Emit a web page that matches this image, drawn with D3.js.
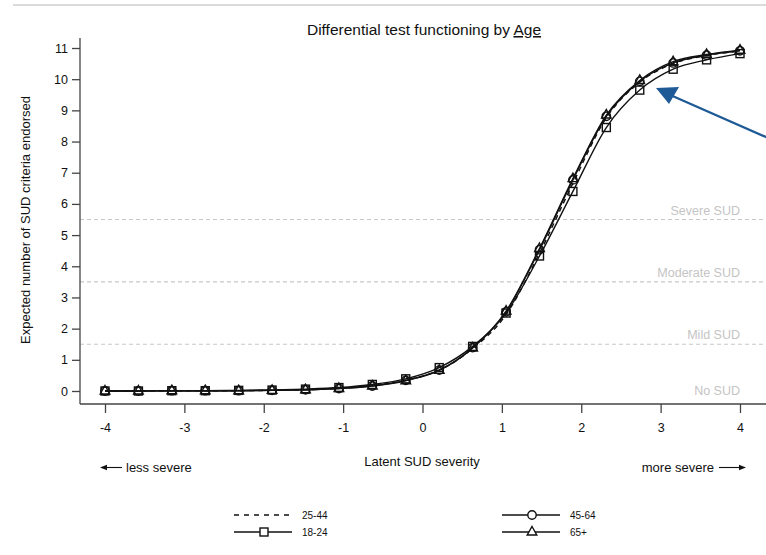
<!DOCTYPE html>
<html>
<head>
  <meta charset="utf-8">
  <title>Differential test functioning by Age</title>
  <script src="https://d3js.org/d3.v7.min.js"></script>
  <style>
    body { margin: 0; background: #fff; }
    text { font-family: "Liberation Sans", Arial, sans-serif; }
  </style>
</head>
<body>
<svg width="766" height="555"></svg>
<script>
// latent severity grid (20 points from -4 to 4)
var theta = [-4, -3.579, -3.158, -2.737, -2.316, -1.895, -1.474, -1.053, -0.632, -0.211,
             0.211, 0.632, 1.053, 1.474, 1.895, 2.316, 2.737, 3.158, 3.579, 4];

var age1824 = [0.00, 0.00, 0.01, 0.01, 0.02, 0.03, 0.06, 0.11, 0.21, 0.39,
               0.75, 1.43, 2.50, 4.33, 6.40, 8.45, 9.65, 10.32, 10.62, 10.82];
var age2544 = [0.00, 0.00, 0.01, 0.01, 0.01, 0.02, 0.04, 0.09, 0.17, 0.35,
               0.67, 1.36, 2.45, 4.42, 6.66, 8.76, 9.90, 10.50, 10.76, 10.90];
var age4564 = [0.00, 0.00, 0.01, 0.01, 0.01, 0.02, 0.04, 0.08, 0.16, 0.34,
               0.67, 1.39, 2.54, 4.53, 6.77, 8.81, 9.93, 10.52, 10.77, 10.91];
var age65 = [0.00, 0.00, 0.01, 0.01, 0.01, 0.02, 0.04, 0.08, 0.16, 0.33,
             0.66, 1.38, 2.56, 4.57, 6.81, 8.85, 9.96, 10.56, 10.79, 10.93];

var xTicks = [-4, -3, -2, -1, 0, 1, 2, 3, 4];
var yTicks = [0, 1, 2, 3, 4, 5, 6, 7, 8, 9, 10, 11];

var cutoffs = [0, 1.5, 3.5, 5.5];
var cutoffLabels = ["No SUD", "Mild SUD", "Moderate SUD", "Severe SUD"];

var series = [
  {name: "25-44", values: age2544, dash: "5,4", marker: null},
  {name: "18-24", values: age1824, dash: null, marker: "square"},
  {name: "45-64", values: age4564, dash: null, marker: "circle"},
  {name: "65+", values: age65, dash: null, marker: "triangle"}
];

var svg = d3.select("svg");

var x = d3.scaleLinear().domain([-4, 4]).range([105, 740]);
var y = d3.scaleLinear().domain([0, 11]).range([391, 48]);

var ink = "#111";

// faint rule at top of page
svg.append("line")
    .attr("x1", 13).attr("x2", 766).attr("y1", 5).attr("y2", 5)
    .attr("stroke", "#cfcfcf").attr("stroke-width", 1.5);

// title with underlined "Age"
var title = svg.append("text")
    .attr("x", 424).attr("y", 35)
    .attr("text-anchor", "middle")
    .attr("font-size", 15.5)
    .attr("fill", ink);
title.append("tspan").text("Differential test functioning by ");
title.append("tspan").attr("text-decoration", "underline").text("Age");

// severity cut-offs
cutoffs.forEach(function(c, i) {
  if (c > 0) {
    svg.append("line")
        .attr("x1", 80).attr("x2", 766)
        .attr("y1", y(c)).attr("y2", y(c))
        .attr("stroke", "#c8c8c8")
        .attr("stroke-width", 1.2)
        .attr("stroke-dasharray", "4,3");
  }
  svg.append("text")
      .attr("x", 740)
      .attr("y", c > 0 ? y(c) - 5 : y(c) + 4)
      .attr("text-anchor", "end")
      .attr("font-size", 12.5)
      .attr("fill", "#c4c4c4")
      .text(cutoffLabels[i]);
});

// axes
var yAxis = svg.append("g")
    .attr("transform", "translate(80,0)")
    .call(d3.axisLeft(y).tickValues(yTicks).tickSize(8).tickPadding(4));
yAxis.select(".domain").attr("d", "M0,38V404");

var xAxis = svg.append("g")
    .attr("transform", "translate(0,404)")
    .call(d3.axisBottom(x).tickValues(xTicks).tickSize(9).tickPadding(10)
      .tickFormat(d3.format("d")));
xAxis.select(".domain").attr("d", "M80,0H766");

[yAxis, xAxis].forEach(function(a) {
  a.selectAll("text").attr("font-size", 12.5).attr("fill", ink)
      .attr("font-family", "'Liberation Sans', Arial, sans-serif");
  a.selectAll("line, path").attr("stroke", "#444").attr("stroke-width", 1.3);
});
xAxis.selectAll(".tick text").text(function(d) { return d < 0 ? "-" + Math.abs(d) : d; });

// axis titles
svg.append("text")
    .attr("transform", "translate(30,220) rotate(-90)")
    .attr("text-anchor", "middle")
    .attr("font-size", 13)
    .attr("fill", ink)
    .text("Expected number of SUD criteria endorsed");

svg.append("text")
    .attr("x", 422).attr("y", 466)
    .attr("text-anchor", "middle")
    .attr("font-size", 13)
    .attr("fill", ink)
    .text("Latent SUD severity");

svg.append("text")
    .attr("x", 126).attr("y", 472)
    .attr("font-size", 13)
    .attr("fill", ink)
    .text("less severe");

svg.append("text")
    .attr("x", 714).attr("y", 472)
    .attr("text-anchor", "end")
    .attr("font-size", 13)
    .attr("fill", ink)
    .text("more severe");

// direction arrows next to the severity labels
function smallArrow(x1, x2, yy) {
  var dir = x2 > x1 ? 1 : -1;
  svg.append("line")
      .attr("x1", x1).attr("x2", x2 - dir * 4).attr("y1", yy).attr("y2", yy)
      .attr("stroke", ink).attr("stroke-width", 1.1);
  svg.append("path")
      .attr("d", "M" + x2 + "," + yy + "L" + (x2 - dir * 7) + "," + (yy - 2.8) +
                 "L" + (x2 - dir * 7) + "," + (yy + 2.8) + "Z")
      .attr("fill", ink);
}
smallArrow(122, 100, 467.5);
smallArrow(719, 746, 467.5);

// curves
var line = d3.line()
    .x(function(d, i) { return x(theta[i]); })
    .y(function(d) { return y(d); })
    .curve(d3.curveMonotoneX);

function drawMarker(g, type, cx, cy) {
  if (type === "square") {
    g.append("rect").attr("x", cx - 4).attr("y", cy - 4)
        .attr("width", 8).attr("height", 8);
  } else if (type === "circle") {
    g.append("circle").attr("cx", cx).attr("cy", cy).attr("r", 4.2);
  } else if (type === "triangle") {
    g.append("path")
        .attr("d", "M" + cx + "," + (cy - 5.5) + "L" + (cx + 4.8) + "," + (cy + 3) +
                   "L" + (cx - 4.8) + "," + (cy + 3) + "Z");
  }
}

series.forEach(function(s) {
  svg.append("path")
      .attr("d", line(s.values))
      .attr("fill", "none")
      .attr("stroke", ink)
      .attr("stroke-width", 1.4)
      .attr("stroke-dasharray", s.dash);
  if (s.marker) {
    var g = svg.append("g")
        .attr("fill", "none").attr("stroke", ink).attr("stroke-width", 1.4);
    s.values.forEach(function(v, i) { drawMarker(g, s.marker, x(theta[i]), y(v)); });
  }
});

// legend
var legendPos = [
  {x: 234, y: 515}, {x: 234, y: 532}, {x: 502, y: 515}, {x: 502, y: 532}
];
series.forEach(function(s, i) {
  var p = legendPos[i];
  var g = svg.append("g");
  g.append("line")
      .attr("x1", p.x).attr("x2", p.x + 58)
      .attr("y1", p.y).attr("y2", p.y)
      .attr("stroke", ink).attr("stroke-width", 1.3)
      .attr("stroke-dasharray", s.dash ? "5,5" : null);
  if (s.marker) {
    var m = g.append("g").attr("fill", "#fff").attr("stroke", ink).attr("stroke-width", 1.4);
    drawMarker(m, s.marker, p.x + 30, p.y);
  }
  g.append("text")
      .attr("x", p.x + 68).attr("y", p.y + 3.5)
      .attr("font-size", 10)
      .attr("fill", ink)
      .text(s.name);
});

// annotation arrow
svg.append("line")
    .attr("x1", 800).attr("y1", 152)
    .attr("x2", 668).attr("y2", 94)
    .attr("stroke", "#1d5a96")
    .attr("stroke-width", 2.2);

svg.append("path")
    .attr("d", "M656,88L679,87L669,104Z")
    .attr("fill", "#1d5a96");
</script>
</body>
</html>
